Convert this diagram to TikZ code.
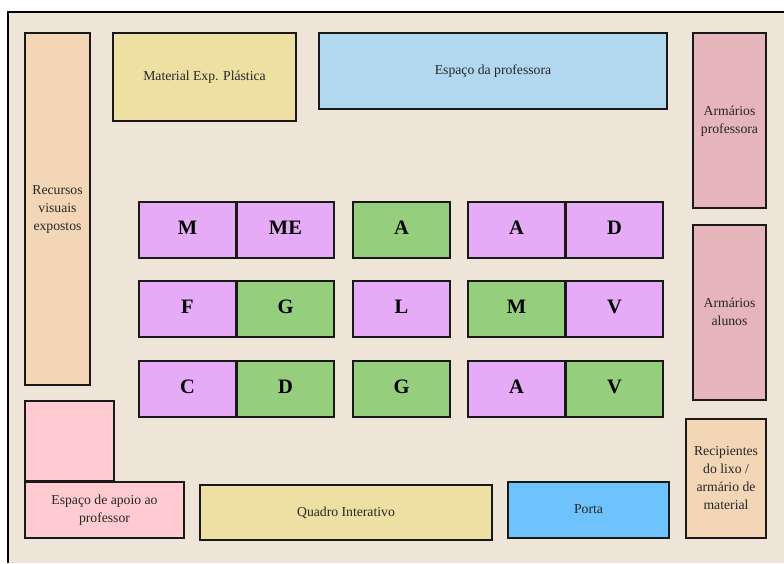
\documentclass[tikz,border=0pt]{standalone}
\usepackage{fontspec}
\setmainfont{Liberation Serif}
\definecolor{bgc}{HTML}{EFE4D8}
\definecolor{peach}{HTML}{F2D6B6}
\definecolor{sand}{HTML}{EDE0A2}
\definecolor{sky}{HTML}{B2D8F0}
\definecolor{rose}{HTML}{E6B5B9}
\definecolor{lilac}{HTML}{E6ABF7}
\definecolor{leaf}{HTML}{95CF7E}
\definecolor{blush}{HTML}{FFCBD0}
\definecolor{door}{HTML}{6FC3FD}
\tikzset{
  zone/.style={draw=black!90,line width=1.4pt,inner sep=0pt,outer sep=0pt,
    font=\fontsize{13.7}{18}\selectfont,text=black!85},
  desk/.style={zone,font=\fontsize{20.5}{22}\selectfont\bfseries,text=black,fill=#1}
}
\newcommand{\lift}{1pt}
% name, left, top, right, bottom, style, text
\newcommand{\placebox}[7]{%
  \node[#6,minimum width={(#4-#2)*1pt},minimum height={(#5-#3)*1pt}] (#1)
    at ({(#2+#4)/2*1pt},{-(#3+#5)/2*1pt})
    {\raisebox{\lift}{\begin{tabular}{@{}c@{}}#7\end{tabular}}};}
\begin{document}
\begin{tikzpicture}[x=1pt,y=1pt]
\useasboundingbox (0,0) rectangle (784,-563);
\fill[white] (0,0) rectangle (784,-563);
\fill[bgc] (8,-12) rectangle (784,-563);
\draw[black,line width=2.2pt] (8,-563) -- (8,-12) -- (784,-12);
\renewcommand{\lift}{0pt}
\placebox{rec}{25}{33}{90}{385}{zone,fill=peach}{Recursos\\visuais\\expostos}
\placebox{armp}{693}{33}{766}{208}{zone,fill=rose}{Armários\\professora}
\placebox{quadro}{200}{485}{492}{540}{zone,fill=sand}{Quadro Interativo}
\renewcommand{\lift}{1pt}
\placebox{mat}{113}{33}{296}{121}{zone,fill=sand}{Material Exp. Plástica}
\placebox{esp}{319}{33}{667}{109}{zone,fill=sky}{Espaço da professora}
\placebox{lixo}{686}{419}{766}{538}{zone,fill=peach}{Recipientes\\do lixo /\\armário de\\material}
\placebox{apoiot}{25}{401}{114}{481}{zone,fill=blush}{}
\renewcommand{\lift}{2pt}
\placebox{arma}{693}{225}{766}{400}{zone,fill=rose}{Armários\\alunos}
\placebox{porta}{508}{482}{669}{538}{zone,fill=door}{Porta}
\placebox{apoio}{25}{482}{184}{538}{zone,fill=blush}{Espaço de apoio ao\\professor}
\renewcommand{\lift}{2pt}
\placebox{a1}{139}{202}{236}{258}{desk=lilac}{M}
\placebox{a2}{237}{202}{334}{258}{desk=lilac}{ME}
\placebox{a3}{353}{202}{450}{258}{desk=leaf}{A}
\placebox{a4}{468}{202}{565}{258}{desk=lilac}{A}
\placebox{a5}{566}{202}{663}{258}{desk=lilac}{D}
\renewcommand{\lift}{1pt}
\placebox{b1}{139}{281}{236}{337}{desk=lilac}{F}
\placebox{b2}{237}{281}{334}{337}{desk=leaf}{G}
\placebox{b3}{353}{281}{450}{337}{desk=lilac}{L}
\placebox{b4}{468}{281}{565}{337}{desk=leaf}{M}
\placebox{b5}{566}{281}{663}{337}{desk=lilac}{V}
\placebox{c1}{139}{361}{236}{417}{desk=lilac}{C}
\placebox{c2}{237}{361}{334}{417}{desk=leaf}{D}
\placebox{c3}{353}{361}{450}{417}{desk=leaf}{G}
\placebox{c4}{468}{361}{565}{417}{desk=lilac}{A}
\placebox{c5}{566}{361}{663}{417}{desk=leaf}{V}
\end{tikzpicture}
\end{document}
